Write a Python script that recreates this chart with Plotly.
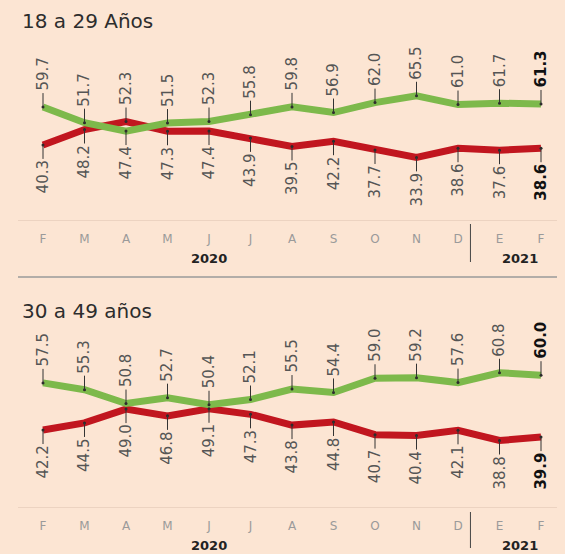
import plotly.graph_objects as go

# Datos (porcentaje) por mes, feb 2020 - feb 2021
months = ["F", "M", "A", "M", "J", "J", "A", "S", "O", "N", "D", "E", "F"]
years = ["2020", "2021"]

green_18_29 = [59.7, 51.7, 47.4, 51.5, 52.3, 55.8, 59.8, 56.9, 62.0, 65.5, 61.0, 61.7, 61.3]
red_18_29 = [40.3, 48.2, 52.3, 47.3, 47.4, 43.9, 39.5, 42.2, 37.7, 33.9, 38.6, 37.6, 38.6]

green_30_49 = [57.5, 55.3, 50.8, 52.7, 50.4, 52.1, 55.5, 54.4, 59.0, 59.2, 57.6, 60.8, 60.0]
red_30_49 = [42.2, 44.5, 49.0, 46.8, 49.1, 47.3, 43.8, 44.8, 40.7, 40.4, 42.1, 38.8, 39.9]

titles = ["18 a 29 Años", "30 a 49 años"]

W, H = 565, 554
BG = "#fce5d3"
GREEN = "#7db94b"
RED = "#c1161f"
FONT = "DejaVu Sans"


def py(p):
    # pixel (desde arriba) -> coordenada paper
    return 1 - p / H


x = list(range(len(months)))
fig = go.Figure()

panels = [
    (green_18_29, red_18_29, "x", "y"),
    (green_30_49, red_30_49, "x2", "y2"),
]

for green, red, xa, ya in panels:
    fig.add_trace(go.Scatter(x=x, y=red, mode="lines", line=dict(color=RED, width=7),
                             xaxis=xa, yaxis=ya, hoverinfo="skip"))
    fig.add_trace(go.Scatter(x=x, y=green, mode="lines", line=dict(color=GREEN, width=7),
                             xaxis=xa, yaxis=ya, hoverinfo="skip"))
    fig.add_trace(go.Scatter(x=x + x, y=red + green, mode="markers",
                             marker=dict(color="#2b2b2b", size=3),
                             xaxis=xa, yaxis=ya, hoverinfo="skip"))

annotations = []
for green, red, xa, ya in panels:
    last = len(months) - 1
    for i in x:
        hi = max(green[i], red[i])
        lo = min(green[i], red[i])
        bold = i == last
        f = dict(family=FONT, size=15,
                 color="#111" if bold else "#555",
                 weight="bold" if bold else "normal")
        # texto girado: el anclaje x se refiere al inicio/fin del texto
        common = dict(x=i, xref=xa, yref=ya, textangle=-90, showarrow=True,
                      arrowhead=0, arrowwidth=1, arrowcolor="#333", ax=0,
                      yanchor="middle", font=f)
        annotations.append(dict(y=hi, text=f"{hi:.1f}", ay=-14, xanchor="left", **common))
        annotations.append(dict(y=lo, text=f"{lo:.1f}", ay=14, xanchor="right", **common))

# titulos y años
for t, yp in zip(titles, [21, 311]):
    annotations.append(dict(x=20 / W, y=py(yp), xref="paper", yref="paper", text=t,
                            showarrow=False, xanchor="left", yanchor="middle",
                            font=dict(family=FONT, size=20, color="#2d2d2d")))
for xa, yp in [("x", 258), ("x2", 545)]:
    for yr, xv in zip(years, [4, 11.5]):
        annotations.append(dict(x=xv, y=py(yp), xref=xa, yref="paper", text=yr,
                                showarrow=False, xanchor="center", yanchor="middle",
                                font=dict(family=FONT, size=13, color="#222", weight="bold")))

shapes = [
    # separador de año
    dict(type="line", xref="x", yref="paper", x0=10.3, x1=10.3, y0=py(224), y1=py(262),
         line=dict(color="#444", width=1)),
    dict(type="line", xref="x2", yref="paper", x0=10.3, x1=10.3, y0=py(512), y1=py(548),
         line=dict(color="#444", width=1)),
    # linea inferior del primer panel
    dict(type="line", xref="paper", yref="paper", x0=18 / W, x1=557 / W, y0=py(277), y1=py(277),
         line=dict(color="#9a9a9a", width=1.5)),
]

xdom = [18 / W, 557 / W]
xrng = [(18 - 43) / 41.5, (557 - 43) / 41.5]
xaxis_common = dict(domain=xdom, range=xrng, tickmode="array", tickvals=x, ticktext=months,
                    showgrid=False, zeroline=False, showline=True, linecolor="#ecd3c1",
                    linewidth=1, ticks="", ticklabelstandoff=8, anchor="free",
                    tickfont=dict(family=FONT, size=12, color="#9a9a9a"), fixedrange=True)

fig.update_layout(
    width=W, height=H,
    margin=dict(l=0, r=0, t=0, b=0),
    paper_bgcolor=BG, plot_bgcolor=BG,
    showlegend=False,
    xaxis=dict(position=py(220), **xaxis_common),
    xaxis2=dict(position=py(507), **xaxis_common),
    yaxis=dict(domain=[py(215), py(40)],
               range=[50 + (126 - 215) / 1.95, 50 + (126 - 40) / 1.95],
               visible=False, fixedrange=True),
    yaxis2=dict(domain=[py(500), py(330)],
                range=[50 + (406 - 500) / 3.08, 50 + (406 - 330) / 3.08],
                visible=False, fixedrange=True),
    annotations=annotations,
    shapes=shapes,
)

fig.write_html(
    "out.html",
    config={"displayModeBar": False},
    post_script="document.body.style.margin='0';document.body.style.backgroundColor='%s';" % BG,
)
